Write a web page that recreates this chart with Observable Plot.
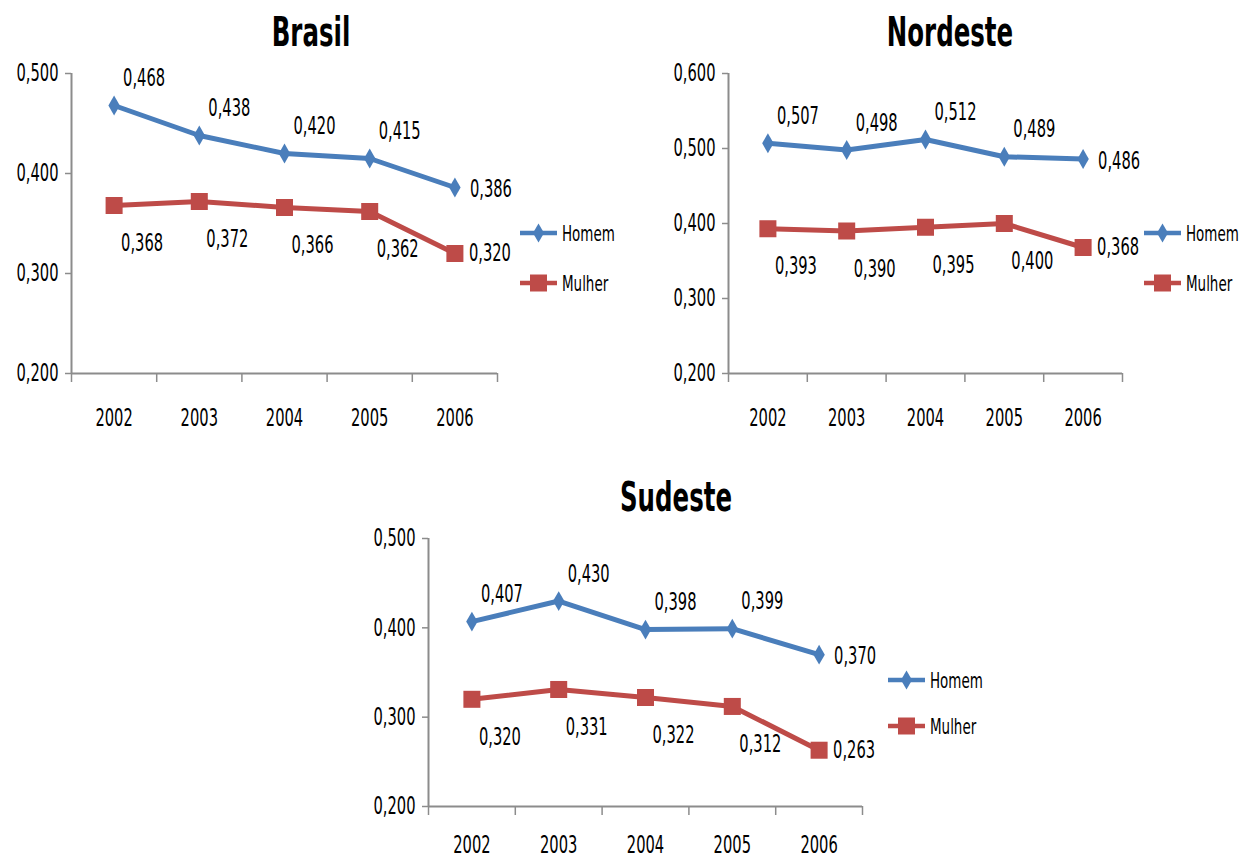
<!DOCTYPE html>
<html><head><meta charset="utf-8">
<script src="https://cdn.jsdelivr.net/npm/d3@7"></script>
<script src="https://cdn.jsdelivr.net/npm/@observablehq/plot@0.6"></script>
<style>
body{margin:0;background:#fff;}
#root{position:relative;width:1239px;height:857px;overflow:hidden;font-family:"DejaVu Sans Condensed","DejaVu Sans",sans-serif;font-stretch:condensed;}
#root svg, #root text{font-stretch:condensed;}
.title{position:absolute;transform:translate(-50%,-50%) scaleX(0.68);font-weight:bold;font-size:40px;white-space:nowrap;color:#000;font-stretch:condensed;}
.chart{position:absolute;}
.legend{position:absolute;}
</style></head><body><div id="root"></div>
<script>
const years = [2002, 2003, 2004, 2005, 2006];
const seriesNames = ["Homem", "Mulher"];
const titles = ["Brasil", "Nordeste", "Sudeste"];
const brasilHomem = [0.468, 0.438, 0.420, 0.415, 0.386];
const brasilMulher = [0.368, 0.372, 0.366, 0.362, 0.320];
const nordesteHomem = [0.507, 0.498, 0.512, 0.489, 0.486];
const nordesteMulher = [0.393, 0.390, 0.395, 0.400, 0.368];
const sudesteHomem = [0.407, 0.430, 0.398, 0.399, 0.370];
const sudesteMulher = [0.320, 0.331, 0.322, 0.312, 0.263];
const brasilTicks = [0.2, 0.3, 0.4, 0.5];
const nordesteTicks = [0.2, 0.3, 0.4, 0.5, 0.6];
const sudesteTicks = [0.2, 0.3, 0.4, 0.5];

const FONT = '"DejaVu Sans Condensed","DejaVu Sans",sans-serif';
const FS = 24, LFS = 22, SX = 0.68;
const BLUE = "#4A7EBB", RED = "#BE4B48", GRAY = "#8C8C8C";
const ML = 71, MT = 73, MB = 70, MR = 70;
const root = document.getElementById("root");
const fmt = d => d.toFixed(3).replace(".", ",");

function squeeze(node) {
  node.querySelectorAll("text").forEach(el => {
    let t = el.getAttribute("transform") || "";
    const x = el.getAttribute("x");
    if (x != null && /^-?[\d.]+$/.test(x.trim()) && +x !== 0) {
      t += ` translate(${+x},0)`;
      el.removeAttribute("x");
    }
    el.setAttribute("transform", (t + ` scale(${SX},1)`).trim());
  });
}

function legend(cfg) {
  const div = document.createElement("div");
  div.className = "legend";
  div.style.left = cfg.legendX + "px";
  div.style.top = (cfg.legendY - 15) + "px";
  const svg = d3.create("svg").attr("width", 140).attr("height", 30 + cfg.legendGap)
    .style("overflow", "visible").style("font-family", FONT).style("font-stretch", "condensed");
  const items = [
    {name: seriesNames[0], color: BLUE, sym: d3.symbolDiamond, size: 106},
    {name: seriesNames[1], color: RED, sym: d3.symbolSquare, size: 289}
  ];
  items.forEach((it, i) => {
    const g = svg.append("g").attr("transform", `translate(0,${15 + i * cfg.legendGap})`);
    g.append("line").attr("x1", 0).attr("x2", 37).attr("stroke", it.color).attr("stroke-width", 4.5);
    g.append("path").attr("d", d3.symbol(it.sym, it.size)()).attr("transform", "translate(18.5,0)").attr("fill", it.color);
    g.append("text").attr("transform", "translate(42,0)").attr("dy", "0.35em").attr("font-size", LFS).text(it.name);
  });
  squeeze(svg.node());
  div.appendChild(svg.node());
  root.appendChild(div);
}

function makeChart(cfg) {
  const H = years.map((yr, i) => ({year: yr, series: seriesNames[0], value: cfg.homem[i]}));
  const M = years.map((yr, i) => ({year: yr, series: seriesNames[1], value: cfg.mulher[i]}));
  const last = years[years.length - 1];
  const bounds = years.map(y => y - 0.5).concat([last + 0.5]);
  const chart = Plot.plot({
    width: cfg.innerW + ML + MR,
    height: cfg.innerH + MT + MB,
    marginLeft: ML, marginRight: MR, marginTop: MT, marginBottom: MB,
    style: {fontFamily: FONT, fontSize: FS + "px", fontStretch: "condensed", background: "transparent", overflow: "visible"},
    x: {type: "linear", domain: [bounds[0], bounds[bounds.length - 1]]},
    y: {domain: cfg.yDomain},
    marks: [
      Plot.axisY(cfg.yTicks, {tickSize: 6, tickPadding: 7, tickFormat: fmt, stroke: GRAY, strokeWidth: 1.5, fill: "#000", fontSize: FS, label: null}),
      Plot.axisX(bounds, {tickSize: 9, tickFormat: () => "", stroke: GRAY, strokeWidth: 1.5, label: null}),
      Plot.axisX(years, {tickSize: 0, tickPadding: cfg.yearPad, tickFormat: d => String(d), fill: "#000", fontSize: FS, label: null}),
      Plot.ruleX([bounds[0]], {stroke: GRAY, strokeWidth: 2}),
      Plot.ruleY([cfg.yDomain[0]], {stroke: GRAY, strokeWidth: 2}),
      Plot.line(H, {x: "year", y: "value", stroke: BLUE, strokeWidth: 5}),
      Plot.line(M, {x: "year", y: "value", stroke: RED, strokeWidth: 5}),
      Plot.dot(H, {x: "year", y: "value", symbol: d3.symbolDiamond, r: 6, fill: BLUE, stroke: "none"}),
      Plot.dot(M, {x: "year", y: "value", symbol: d3.symbolSquare, r: 9.6, fill: RED, stroke: "none"}),
      Plot.text(H.filter(d => d.year !== last), {x: "year", y: "value", text: d => fmt(d.value), dx: 30, dy: -27, fontSize: FS, fill: "#000"}),
      Plot.text(H.filter(d => d.year === last), {x: "year", y: "value", text: d => fmt(d.value), dx: 36, dy: 2, fontSize: FS, fill: "#000"}),
      Plot.text(M.filter(d => d.year !== last), {x: "year", y: "value", text: d => fmt(d.value), dx: 28, dy: 38, fontSize: FS, fill: "#000"}),
      Plot.text(M.filter(d => d.year === last), {x: "year", y: "value", text: d => fmt(d.value), dx: 35, dy: 0, fontSize: FS, fill: "#000"})
    ]
  });
  squeeze(chart);
  chart.classList.add("chart");
  chart.style.left = (cfg.axisX - ML) + "px";
  chart.style.top = (cfg.axisTop - MT) + "px";
  root.appendChild(chart);

  const t = document.createElement("div");
  t.className = "title";
  t.textContent = cfg.title;
  t.style.left = cfg.titleX + "px";
  t.style.top = cfg.titleY + "px";
  root.appendChild(t);

  legend(cfg);
}

makeChart({title: titles[0], homem: brasilHomem, mulher: brasilMulher, yTicks: brasilTicks, yDomain: [0.2, 0.5],
  axisX: 71, axisTop: 73, innerW: 426, innerH: 300, yearPad: 35, titleX: 311, titleY: 32, legendX: 520, legendY: 233, legendGap: 50});
makeChart({title: titles[1], homem: nordesteHomem, mulher: nordesteMulher, yTicks: nordesteTicks, yDomain: [0.2, 0.6],
  axisX: 728, axisTop: 73, innerW: 394, innerH: 300, yearPad: 35, titleX: 950, titleY: 32, legendX: 1144, legendY: 233, legendGap: 50});
makeChart({title: titles[2], homem: sudesteHomem, mulher: sudesteMulher, yTicks: sudesteTicks, yDomain: [0.2, 0.5],
  axisX: 428, axisTop: 538, innerW: 434, innerH: 268, yearPad: 29, titleX: 676, titleY: 497, legendX: 888, legendY: 680, legendGap: 46});
</script>
</body></html>
